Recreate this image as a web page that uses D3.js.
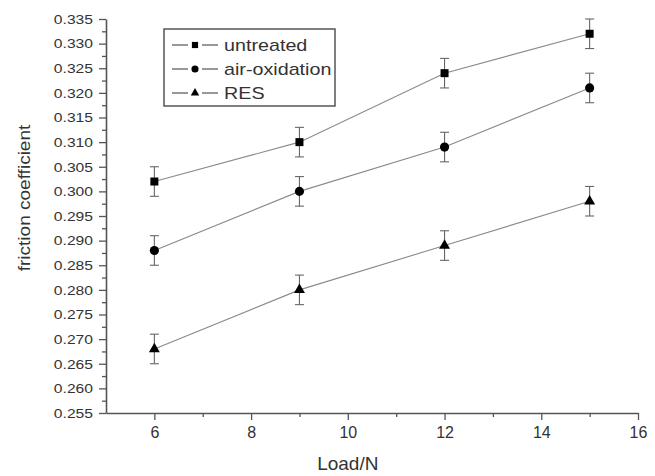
<!DOCTYPE html>
<html>
<head>
<meta charset="utf-8">
<script src="https://cdn.jsdelivr.net/npm/d3@7.9.0/dist/d3.min.js"></script>
<style>
  body { margin: 0; background: #fff; }
  svg text { font-family: Arial, "Liberation Sans", sans-serif; fill: #333; }
</style>
</head>
<body>
<svg id="chart" width="655" height="476"></svg>
<script>
const loads = [6, 9, 12, 15];
const untreated = [0.302, 0.310, 0.324, 0.332];
const airOxidation = [0.288, 0.300, 0.309, 0.321];
const res = [0.268, 0.280, 0.289, 0.298];
const errUntreated = [0.003, 0.003, 0.003, 0.003];
const errAir = [0.003, 0.003, 0.003, 0.003];
const errRes = [0.003, 0.003, 0.003, 0.003];
const xTicks = [6, 8, 10, 12, 14, 16];
const xMinor = [7, 9, 11, 13, 15];
const yTicks = d3.range(0.255, 0.3351, 0.005);
const yMinor = d3.range(0.2575, 0.335, 0.005);

const series = [
  { name: "untreated", values: untreated, err: errUntreated, symbol: d3.symbolSquare, size: 64 },
  { name: "air-oxidation", values: airOxidation, err: errAir, symbol: d3.symbolCircle, size: 66 },
  { name: "RES", values: res, err: errRes, symbol: d3.symbolTriangle, size: 52 }
];

const margin = { top: 19, left: 106 };
const width = 532, height = 394;
const svg = d3.select("#chart");
const g = svg.append("g").attr("transform", `translate(${margin.left},${margin.top})`);

const x = d3.scaleLinear().domain([5, 16]).range([0, width]);
const y = d3.scaleLinear().domain([0.255, 0.335]).range([height, 0]);

const axisColor = "#555";
const lineColor = "#8a8a8a";

// x axis
const xAxis = g.append("g").attr("transform", `translate(0,${height})`)
  .call(d3.axisBottom(x).tickValues(xTicks).tickSize(7).tickSizeOuter(0).tickPadding(7).tickFormat(d3.format("d")));
g.append("g").attr("transform", `translate(0,${height})`)
  .call(d3.axisBottom(x).tickValues(xMinor).tickSize(4).tickSizeOuter(0).tickFormat(""))
  .select(".domain").remove();

// y axis
const yAxis = g.append("g")
  .call(d3.axisLeft(y).tickValues(yTicks).tickSize(7).tickSizeOuter(0).tickPadding(5).tickFormat(d3.format(".3f")));
g.append("g")
  .call(d3.axisLeft(y).tickValues(yMinor).tickSize(4).tickSizeOuter(0).tickFormat(""))
  .select(".domain").remove();

g.selectAll(".domain").attr("stroke", axisColor).attr("stroke-width", 1.6);
g.selectAll(".tick line").attr("stroke", axisColor).attr("stroke-width", 1.3);
xAxis.selectAll("text").attr("font-size", 16).attr("font-family", null);
yAxis.selectAll("text").attr("font-size", 13.5).attr("font-family", null)
  .attr("transform", "scale(1.16,1)")
  .attr("x", -13 / 1.16);

// axis titles
svg.append("text").attr("x", margin.left + x(10)).attr("y", 470)
  .attr("text-anchor", "middle").attr("font-size", 19).text("Load/N");
svg.append("text").attr("transform", `translate(30,${margin.top + height / 2 - 18}) rotate(-90) scale(1.12,1)`)
  .attr("text-anchor", "middle").attr("font-size", 17).text("friction coefficient");

// lines, error bars, markers
const line = d3.line().x((d, i) => x(loads[i])).y(d => y(d));
series.forEach(s => {
  g.append("path").datum(s.values).attr("d", line)
    .attr("fill", "none").attr("stroke", lineColor).attr("stroke-width", 1.1);

  const eb = g.append("g");
  s.values.forEach((v, i) => {
    const cx = x(loads[i]);
    const y1 = y(v - s.err[i]), y2 = y(v + s.err[i]);
    eb.append("line").attr("x1", cx).attr("x2", cx).attr("y1", y1).attr("y2", y2);
    eb.append("line").attr("x1", cx - 4.5).attr("x2", cx + 4.5).attr("y1", y1).attr("y2", y1);
    eb.append("line").attr("x1", cx - 4.5).attr("x2", cx + 4.5).attr("y1", y2).attr("y2", y2);
  });
  eb.selectAll("line").attr("stroke", "#666").attr("stroke-width", 1.1);

  g.selectAll(null).data(s.values).enter().append("path")
    .attr("d", d3.symbol().type(s.symbol).size(s.size))
    .attr("transform", (d, i) => `translate(${x(loads[i])},${y(d)})`)
    .attr("fill", "#000");
});

// legend
const legend = svg.append("g").attr("transform", "translate(164,29)");
legend.append("rect").attr("width", 171).attr("height", 77)
  .attr("fill", "#fff").attr("stroke", "#555").attr("stroke-width", 1.5);
series.forEach((s, i) => {
  const ly = 16 + i * 24;
  legend.append("line").attr("x1", 8).attr("x2", 24).attr("y1", ly).attr("y2", ly)
    .attr("stroke", "#444").attr("stroke-width", 1.1);
  legend.append("line").attr("x1", 38).attr("x2", 54).attr("y1", ly).attr("y2", ly)
    .attr("stroke", "#444").attr("stroke-width", 1.1);
  legend.append("path").attr("d", d3.symbol().type(s.symbol).size(s.size * 0.6))
    .attr("transform", `translate(31,${ly})`).attr("fill", "#000");
  legend.append("text").attr("transform", `translate(60,${ly + 6}) scale(1.16,1)`)
    .attr("font-size", 17).attr("fill", "#222").text(s.name);
});
</script>
</body>
</html>
